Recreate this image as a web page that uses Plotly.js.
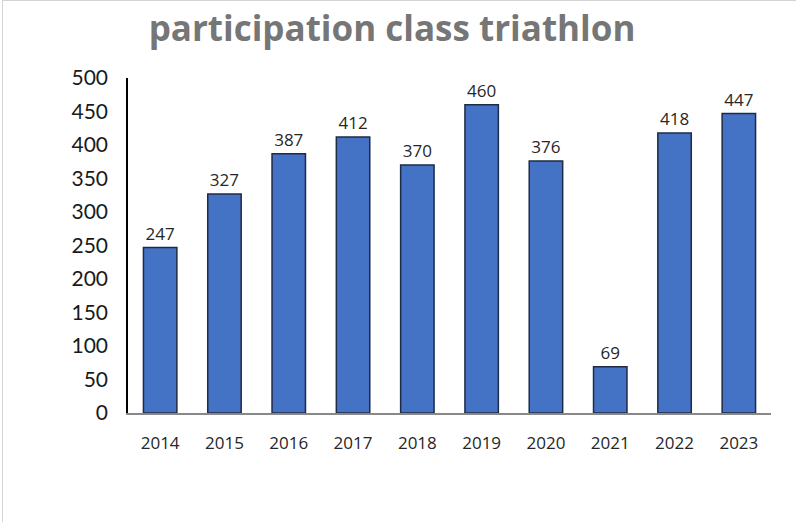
<!DOCTYPE html>
<html>
<head>
<meta charset="utf-8">
<script src="https://cdn.plot.ly/plotly-3.0.1.min.js"></script>
<style>
  body { margin: 0; background: #fff; }
  #chart { position: absolute; left: 2px; top: 0; width: 792px; height: 530px;
           border: 1px solid #d4d4d4; }
</style>
</head>
<body>
<div id="chart"></div>
<script>
// participation per year
const years = ['2014', '2015', '2016', '2017', '2018', '2019', '2020', '2021', '2022', '2023'];
const participants = [247, 327, 387, 412, 370, 460, 376, 69, 418, 447];
const yTicks = [0, 50, 100, 150, 200, 250, 300, 350, 400, 450, 500];

const trace = {
  type: 'bar',
  x: years,
  y: participants,
  text: participants.map(String),
  textposition: 'outside',
  cliponaxis: false,
  textfont: { family: 'Open Sans, Lato, sans-serif', size: 17, color: '#262626' },
  marker: { color: '#4472C4', line: { color: '#1f2a44', width: 1.5 } },
  hoverinfo: 'x+y'
};

const layout = {
  width: 794,
  height: 530,
  margin: { l: 125, r: 26, t: 77, b: 118 },
  paper_bgcolor: '#fff',
  plot_bgcolor: '#fff',
  bargap: 0.48,
  showlegend: false,
  title: {
    text: '<b>participation class triathlon</b>',
    font: { family: 'Open Sans, Lato, sans-serif', size: 35, color: '#767676' },
    x: 0.49, xanchor: 'center',
    yref: 'container', y: 0.054, yanchor: 'middle'
  },
  xaxis: {
    type: 'category',
    showline: true,
    linecolor: '#888',
    linewidth: 1.5,
    ticks: '',
    ticklabelstandoff: 14,
    tickfont: { family: 'Open Sans, Lato, sans-serif', size: 17, color: '#262626' }
  },
  yaxis: {
    range: [0, 500],
    tickvals: yTicks,
    showgrid: false,
    zeroline: false,
    showline: true,
    linecolor: '#000',
    linewidth: 1.5,
    ticks: '',
    ticklabelstandoff: 14,
    tickfont: { family: 'Lato, Open Sans, sans-serif', size: 21, color: '#1a1a1a' }
  }
};

// title y given from top of container
layout.title.y = 1 - 28 / 530;

Plotly.newPlot('chart', [trace], layout, { displayModeBar: false });
</script>
</body>
</html>
